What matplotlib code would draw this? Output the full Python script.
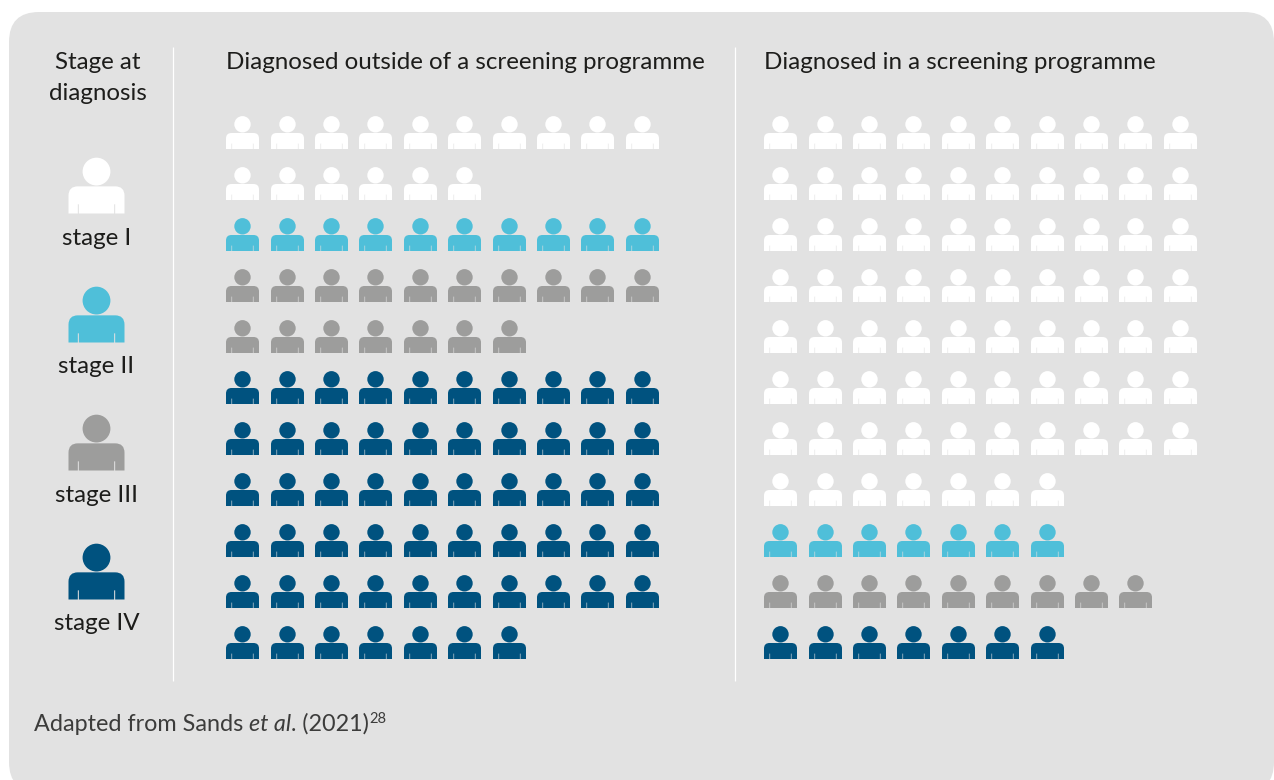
import matplotlib
matplotlib.use("Agg")
import matplotlib.pyplot as plt
from matplotlib.patches import FancyBboxPatch
from matplotlib.path import Path

plt.rcParams['font.family'] = ['Lato', 'DejaVu Sans']

# Data
stages = ["stage I", "stage II", "stage III", "stage IV"]
colors = ["#FFFFFF", "#4FBFD9", "#9D9D9C", "#00527F"]
outside_counts = [16, 10, 17, 57]
screening_counts = [77, 7, 9, 7]
title_outside = "Diagnosed outside of a screening programme"
title_screening = "Diagnosed in a screening programme"

PER_ROW = 10
BG = "#E2E2E2"
TXT = "#1D1D1B"


def person_path():
    # icon in pixel units, centred on 0,0 and y going up
    head = Path.circle((0, 8.2), 8.2)
    L, R, T, B = -16.5, 16.5, -0.5, -16.5
    r = 5.5
    verts = [(L, B), (L, T - r), (L, T), (L + r, T), (R - r, T), (R, T), (R, T - r), (R, B), (L, B)]
    codes = [Path.MOVETO, Path.LINETO, Path.CURVE3, Path.CURVE3, Path.LINETO,
             Path.CURVE3, Path.CURVE3, Path.LINETO, Path.CLOSEPOLY]
    body = Path(verts, codes)
    slits = []
    for x in (-11.0, 10.4):
        w = 0.6
        # wound the other way round from the body so they come out as holes
        slits.append(Path([(x, B), (x + w, B), (x + w, B + 5.4), (x, B + 5.4), (x, B)],
                          [Path.MOVETO, Path.LINETO, Path.LINETO, Path.LINETO, Path.CLOSEPOLY]))
    return Path.make_compound_path(head, body, *slits)


PERSON = person_path()
px = 72 / 100


def icon_size(width):
    return (width * px) ** 2


def draw_grid(ax, counts, x0, y0, dx=44.4, dy=51.0):
    row = 0
    for n, c in zip(counts, colors):
        xs = [x0 + dx * (i % PER_ROW) for i in range(n)]
        ys = [y0 + dy * (row + i // PER_ROW) for i in range(n)]
        ax.scatter(xs, ys, s=icon_size(33), marker=PERSON, color=c, linewidths=0, zorder=3)
        row += (n + PER_ROW - 1) // PER_ROW


fig = plt.figure(figsize=(12.74, 7.80), dpi=100)
ax = fig.add_axes([0, 0, 1, 1])
ax.set_xlim(0, 1274)
ax.set_ylim(780, 0)
ax.axis("off")

ax.add_patch(FancyBboxPatch((39, 42), 1205, 720, boxstyle="round,pad=30,rounding_size=30",
                            fc=BG, ec="none", clip_on=False, zorder=0))

ax.plot([172.8, 172.8], [46.5, 681], color="white", lw=0.9, solid_capstyle="butt", zorder=1)
ax.plot([735.3, 735.3], [46.5, 681], color="white", lw=0.9, solid_capstyle="butt", zorder=1)

FS = 17.4
ax.text(97.5, 62.7, "Stage at", ha="center", va="center", fontsize=FS, color=TXT)
ax.text(97.5, 93.7, "diagnosis", ha="center", va="center", fontsize=FS, color=TXT)
ax.text(226, 62.7, title_outside, ha="left", va="center", fontsize=FS, color=TXT)
ax.text(764, 62.7, title_screening, ha="left", va="center", fontsize=FS, color=TXT)

# legend column
for i, (s, c) in enumerate(zip(stages, colors)):
    ax.scatter([95.7], [185 + 128.7 * i], s=icon_size(56), marker=PERSON, color=c, linewidths=0, zorder=3)
    ax.text(96.5, 238.6 + 128.3 * i, s, ha="center", va="center", fontsize=FS, color=TXT)

draw_grid(ax, outside_counts, 242.2, 132)
draw_grid(ax, screening_counts, 780.2, 132)

# footnote, pieces chained one after the other
FOOT = "#3C3C3B"
FS2 = 16.85
t = ax.text(34, 731, "Adapted from Sands ", fontsize=FS2, color=FOOT, va="baseline")
t = ax.annotate("et al", xy=(1, 0), xycoords=t, va="bottom", fontsize=FS2, color=FOOT, style="italic")
t = ax.annotate(". (2021)", xy=(1, 0), xycoords=t, va="bottom", fontsize=FS2, color=FOOT)
ax.annotate("28", xy=(1, 0), xycoords=t, xytext=(0, 9), textcoords="offset pixels", va="bottom",
            fontsize=10.5, color=FOOT)

fig.savefig("out.png", dpi=100, facecolor="white")
